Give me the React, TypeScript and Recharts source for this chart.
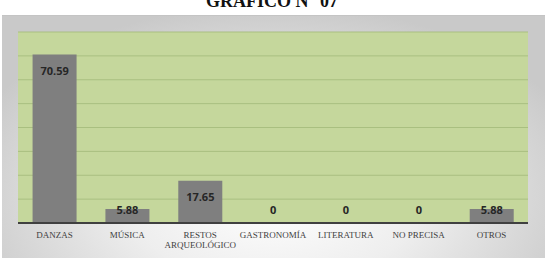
import { BarChart, Bar, XAxis, YAxis, CartesianGrid, LabelList, Cell } from "recharts";

// Gráfico N° 07 — porcentaje por categoría
const categories = ["DANZAS", "MÚSICA", "RESTOS ARQUEOLÓGICO", "GASTRONOMÍA", "LITERATURA", "NO PRECISA", "OTROS"];
const values = [70.59, 5.88, 17.65, 0, 0, 0, 5.88];
const yTicks = [0, 10, 20, 30, 40, 50, 60, 70, 80];

const data = categories.map((name, i) => ({ name, value: values[i] }));

const W = 545;
const H = 258;
const serif = "'Liberation Serif', 'Times New Roman', serif";

// long labels go on two lines, like the original
const CategoryTick = (props: any) => {
  const { x, y, payload } = props;
  const label: string = payload.value;
  const lines = label.length > 12 ? label.split(" ") : [label];
  return (
    <text x={x} y={y} textAnchor="middle" fontFamily={serif} fontSize={9} fill="#404040">
      {lines.map((l, i) => (
        <tspan key={i} x={x} dy={i === 0 ? 7 : 10}>
          {l}
        </tspan>
      ))}
    </text>
  );
};

// inside-end label, pushed up when the bar is too short
const ValueLabel = (props: any) => {
  const { x, y, width, height, value } = props;
  const cy = Math.min(y + 16, y + height - 14);
  return (
    <text
      x={x + width / 2}
      y={cy}
      textAnchor="middle"
      dominantBaseline="central"
      fontFamily="'Open Sans', 'Noto Sans', sans-serif"
      fontWeight="bold"
      fontSize={11}
      fill="#262626"
    >
      {value}
    </text>
  );
};

export default function App() {
  return (
    <div style={{ position: "absolute", left: 0, top: 0, width: W, height: H, background: "#fff" }}>
      <div
        style={{
          position: "absolute",
          left: 2,
          top: 15,
          width: W - 2,
          height: H - 15,
          borderTop: "1px solid #c4c4c4",
          boxSizing: "border-box",
          background: "radial-gradient(ellipse 60% 80% at 50% 75%, #ffffff 0%, #eeeeee 45%, #c9c9c9 100%)",
        }}
      />
      <svg width={W} height={H} style={{ position: "absolute", left: 0, top: 0 }}>
        <text x={272} y={7} textAnchor="middle" fontFamily={serif} fontWeight="bold" fontSize={18} fill="#111">
          GRÁFICO N° 07
        </text>
      </svg>
      <div style={{ position: "absolute", left: 0, top: 0 }}>
        <BarChart
          width={W}
          height={H}
          data={data}
          margin={{ top: 32, right: 17, bottom: 0, left: 18 }}
          barCategoryGap="20%"
        >
          <CartesianGrid horizontal vertical={false} fill="#c5d79c" fillOpacity={1} stroke="#a9bf80" strokeWidth={1} />
          <YAxis hide domain={[0, 80]} ticks={yTicks} width={0} />
          <XAxis
            dataKey="name"
            height={35}
            interval={0}
            tickLine={false}
            axisLine={{ stroke: "#404040", strokeWidth: 2 }}
            tick={<CategoryTick />}
          />
          <Bar dataKey="value" fill="#7f7f7f" minPointSize={1} isAnimationActive={false}>
            {data.map((d) => (
              <Cell key={d.name} fill={d.value === 0 ? "transparent" : "#7f7f7f"} />
            ))}
            <LabelList dataKey="value" content={<ValueLabel />} />
          </Bar>
        </BarChart>
      </div>
    </div>
  );
}
